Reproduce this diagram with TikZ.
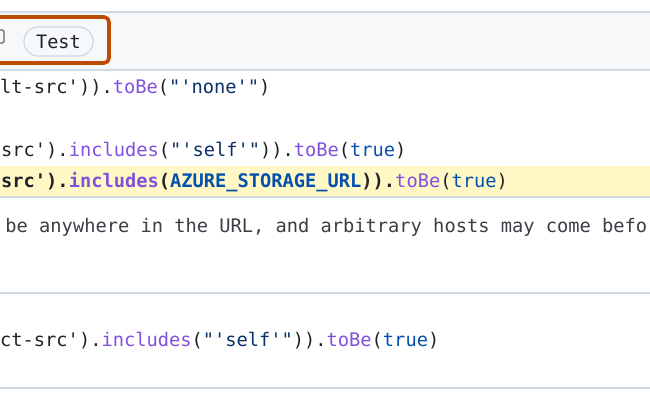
\documentclass[tikz,border=0pt]{standalone}
\usepackage{fontspec}
\setmonofont{DejaVu Sans Mono}
\definecolor{fg}{HTML}{1F2328}
\definecolor{str}{HTML}{0A3069}
\definecolor{fn}{HTML}{8250DF}
\definecolor{kw}{HTML}{0550AE}
\definecolor{cmt}{HTML}{3A3F45}
\definecolor{rule}{HTML}{D1D9E0}
\definecolor{hdr}{HTML}{F6F8FA}
\definecolor{hl}{HTML}{FFF8C5}
\definecolor{orange}{HTML}{BC4C00}
\tikzset{code/.style={anchor=base west,inner sep=0pt,font=\fontsize{18.7bp}{20bp}\ttfamily,text=fg}}
\newcommand{\F}[1]{\textcolor{fn}{#1}}
\newcommand{\K}[1]{\textcolor{kw}{#1}}
\newcommand{\St}[1]{\textcolor{str}{#1}}
\begin{document}
\begin{tikzpicture}[x=1bp,y=-1bp]
\useasboundingbox (0,0) rectangle (650,400);
\clip (0,0) rectangle (650,400);
\fill[white] (0,0) rectangle (650,400);
\fill[hdr] (0,12) rectangle (650,70);
\fill[hl] (0,166) rectangle (650,197);
\foreach \y in {12,70,197,293,388} \draw[rule,line width=1.2bp] (-1,\y) -- (651,\y);
% checkbox fragment
\draw[fg!70,line width=1.3bp,rounded corners=1.5bp] (-6,30) rectangle (4,43);
\node[draw=rule,line width=1.2bp,fill=hdr,rounded corners=14bp,minimum width=69bp,minimum height=29bp,inner sep=0pt,font=\fontsize{18.5bp}{19bp}\ttfamily,text=fg] (test) at (58.5,41.5) {Test};
\draw[orange,line width=3.6bp,rounded corners=5bp] (-10,17) rectangle (109,63);
\node[code] (r1) at (0,93) {lt-src')).\F{toBe}(\St{"'none'"})};
\node[code] (r3) at (1,156) {src').\F{includes}(\St{"'self'"})).\F{toBe}(\K{true})};
\node[code,font=\fontsize{18.7bp}{20bp}\ttfamily\bfseries] (r4) at (1,187) {src').\F{includes}(\K{AZURE\_STORAGE\_URL})).\textmd{\F{toBe}(\K{true})}};
\node[code,text=cmt] (r5) at (-6,232) {\ be anywhere in the URL, and arbitrary hosts may come before};
\node[code] (r6) at (0,346) {ct-src').\F{includes}(\St{"'self'"})).\F{toBe}(\K{true})};
\end{tikzpicture}
\end{document}
